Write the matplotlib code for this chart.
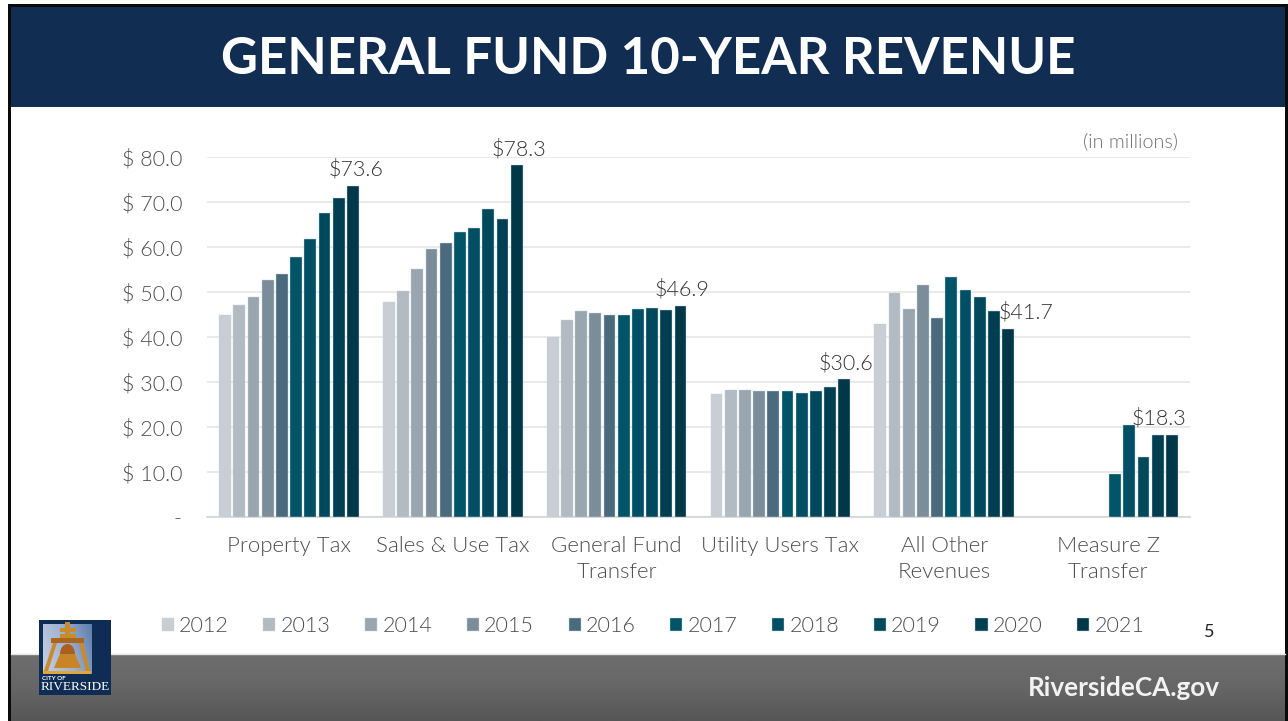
#!/usr/bin/env python3
"""General fund 10-year revenue slide, rebuilt with matplotlib."""

import numpy as np
import matplotlib
matplotlib.use("Agg")
import matplotlib.pyplot as plt
from matplotlib.colors import LinearSegmentedColormap
from matplotlib.patches import Rectangle, Polygon, Ellipse

W, H = 1288, 721

title = "GENERAL FUND 10-YEAR REVENUE"
categories = ["Property Tax", "Sales & Use Tax", "General Fund\nTransfer",
              "Utility Users Tax", "All Other\nRevenues", "Measure Z\nTransfer"]
years = ["2012", "2013", "2014", "2015", "2016", "2017", "2018", "2019", "2020", "2021"]
property_tax = [45.0, 47.1, 49.0, 52.6, 54.0, 57.8, 61.7, 67.5, 70.8, 73.6]
sales_tax = [47.7, 50.2, 55.1, 59.6, 61.0, 63.3, 64.2, 68.4, 66.2, 78.3]
gf_transfer = [40.0, 43.8, 45.7, 45.3, 44.8, 44.9, 46.2, 46.5, 46.1, 46.9]
utility_tax = [27.4, 28.3, 28.2, 28.1, 27.9, 28.0, 27.6, 28.0, 29.0, 30.6]
other_rev = [42.9, 49.8, 46.3, 51.6, 44.3, 53.4, 50.4, 48.8, 45.8, 41.7]
measure_z = [np.nan, np.nan, np.nan, np.nan, np.nan, 9.6, 20.5, 13.3, 18.3, 18.3]
y_ticks = [0, 10, 20, 30, 40, 50, 60, 70, 80]
y_labels = ["-", "$ 10.0", "$ 20.0", "$ 30.0", "$ 40.0", "$ 50.0", "$ 60.0", "$ 70.0", "$ 80.0"]

colors = ["#c8ced3", "#b2bac2", "#9aa6af", "#7c8d9a", "#4a6a7e",
          "#005468", "#004f64", "#00495c", "#003f52", "#00384a"]
# label offsets from the top of the last bar, in pixels
label_off = [(3, 6), (2, 5), (2, 6), (2, 6), (18, 7), (-13, 6)]

plt.rcParams["font.family"] = ["Lato", "DejaVu Sans"]
fig = plt.figure(figsize=(W / 100, H / 100), dpi=100, facecolor="white")

# slide furniture, drawn in pixel coordinates
bg = fig.add_axes([0, 0, 1, 1])
bg.set_xlim(0, W); bg.set_ylim(H, 0); bg.axis("off")
bg.add_patch(Rectangle((8, 4), 3, 717, fc="#0a0a0a", ec="none"))
bg.add_patch(Rectangle((1285, 4), 3, 717, fc="#0a0a0a", ec="none"))
bg.add_patch(Rectangle((8, 4), 1280, 3, fc="#0a0a0a", ec="none"))
bg.add_patch(Rectangle((11, 7), 1274, 100, fc="#122d52", ec="none"))
grad = np.linspace(0, 1, 64)[:, None]
bg.imshow(grad, extent=(11, 1285, 721, 654), cmap=LinearSegmentedColormap.from_list(
    "foot", ["#6e6e6e", "#666666", "#565656"]), aspect="auto", zorder=1)
bg.set_xlim(0, W); bg.set_ylim(H, 0)
bg.plot([11, 1285], [653.5, 653.5], color="#e4e4e4", lw=1, zorder=2)
bg.text(648.5, 60, title, color="white", fontsize=36.7, fontweight="bold", ha="center", va="center")
bg.text(1123.5, 688, "RiversideCA.gov", color="#f2f2f2", fontsize=18.8, fontweight="bold",
        ha="center", va="center", zorder=3)
bg.text(1209, 632, "5", color="#222222", fontsize=13, ha="center", va="center")
bg.text(1178, 142, "(in millions)", color="#707070", fontsize=14.2, ha="right", va="center", fontweight=300)

# logo
bg.add_patch(Rectangle((39, 620), 72, 75, fc="#0f2c54", ec="none", zorder=3))
sky = np.linspace(0, 1, 32)[None, :] + np.linspace(1, 0, 32)[:, None] * 0.3
bg.imshow(sky, extent=(43, 92, 674, 624), cmap=LinearSegmentedColormap.from_list(
    "sky", ["#c4cfe2", "#9fb2d2", "#5f7fae"]), aspect="auto", zorder=4)
bg.set_xlim(0, W); bg.set_ylim(H, 0)
gold = "#c98a2c"
bg.add_patch(Rectangle((65.5, 622), 5, 18, fc=gold, ec="none", zorder=5))
bg.add_patch(Rectangle((60, 628), 16, 3.5, fc=gold, ec="none", zorder=5))
bg.add_patch(Rectangle((60, 634), 16, 3.5, fc=gold, ec="none", zorder=5))
bg.add_patch(Rectangle((51, 638), 33, 5, fc="#a9661f", ec="none", zorder=5))
bg.add_patch(Polygon([(53, 643), (57, 643), (48, 671), (44, 671)], fc=gold, ec="none", zorder=5))
bg.add_patch(Polygon([(79, 643), (83, 643), (90, 671), (86, 671)], fc=gold, ec="none", zorder=5))
bg.add_patch(Rectangle((43, 671), 48, 3, fc="#e0a63a", ec="none", zorder=5))
bg.add_patch(Ellipse((67.5, 654), 15, 20, fc="#a9601e", ec="none", zorder=5))
bg.add_patch(Polygon([(60, 654), (75, 654), (81, 668), (54, 668)], fc="#c98425", ec="none", zorder=5))
bg.text(42, 679, "CITY OF", color="white", fontsize=4.5, fontweight="bold", va="center", zorder=6)
bg.text(75, 687, "RIVERSIDE", color="white", fontsize=9.5, family="Liberation Serif",
        ha="center", va="center", zorder=6)

# chart
ax = fig.add_axes([207 / W, 1 - 517 / H, 983 / W, 360 / H], facecolor="none")
series = np.array([property_tax, sales_tax, gf_transfer, utility_tax, other_rev, measure_z])
x = np.arange(len(categories))
pitch = 14.2 / (983 / len(categories))
bars = []
for i, year in enumerate(years):
    bars.append(ax.bar(x + (i - 4.5) * pitch, series[:, i], width=pitch * 0.83, color=colors[i],
                       edgecolor="#c9d5dc", linewidth=0.3, label=year, zorder=3))
for k in range(len(categories)):
    ax.annotate(f"${series[k, -1]:.1f}", (x[k] + 4.5 * pitch, series[k, -1]), xytext=label_off[k],
                textcoords="offset pixels", ha="center", va="bottom", fontsize=15.5,
                color="#333333", fontweight=300, zorder=4)

ax.set_xlim(-0.5, len(categories) - 0.5)
ax.set_ylim(0, 80)
ax.set_yticks(y_ticks, y_labels, fontweight=300)
ax.set_xticks(x, categories, linespacing=1.35, fontweight=300)
ax.tick_params(length=0)
ax.tick_params(axis="y", labelsize=15.5, labelcolor="#4d4d4d", pad=18)
ax.tick_params(axis="x", labelsize=16, labelcolor="#4d4d4d", pad=14)
ax.grid(axis="y", color="#e6e6e6", lw=1.2, zorder=0)
ax.set_axisbelow(True)
for s in ("top", "right", "left"):
    ax.spines[s].set_visible(False)
ax.spines["bottom"].set_color("#d4d4d4")
ax.spines["bottom"].set_linewidth(1.2)

leg = fig.legend(handles=bars, labels=years, loc="center", bbox_to_anchor=(653 / W, 1 - 626 / H), ncol=10,
                 frameon=False, fontsize=15.5, labelcolor="#4d4d4d", handlelength=0.56, handleheight=0.56,
                 handletextpad=0.25, columnspacing=1.6, borderpad=0)
for t in leg.get_texts():
    t.set_fontweight(300)

fig.savefig("out.png", dpi=100)
